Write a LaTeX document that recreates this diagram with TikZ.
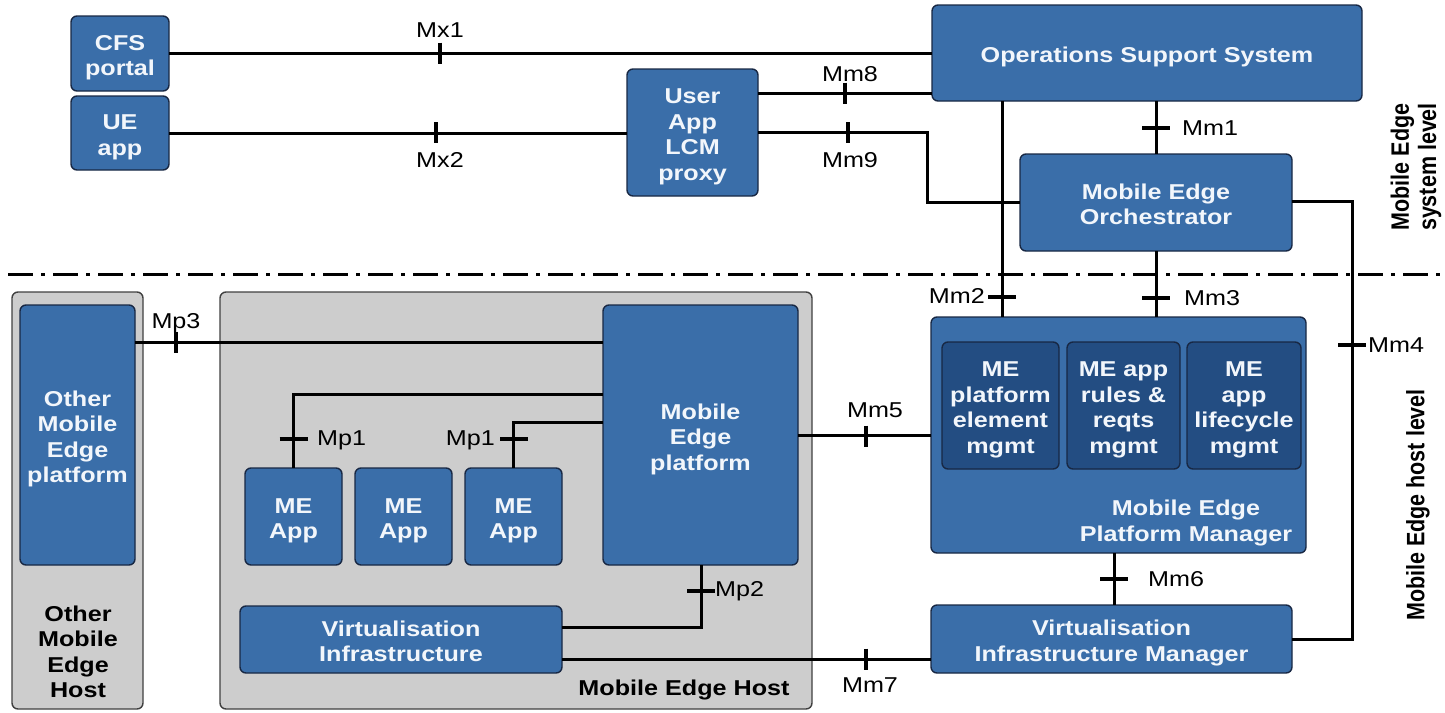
\documentclass[tikz,border=0pt]{standalone}
\usepackage{fontspec}
\setmainfont{Liberation Sans}[FakeStretch=1.17]
\newfontfamily\sidefont{Liberation Sans}
\usepackage{graphicx}

\definecolor{meblue}{RGB}{58,110,169}
\definecolor{medark}{RGB}{35,77,130}
\definecolor{meline}{RGB}{24,40,68}
\definecolor{metext}{RGB}{242,246,251}
\definecolor{hostgray}{RGB}{205,205,205}
\definecolor{hostline}{RGB}{64,64,64}

% centred block of lines, set a little below the optical centre of its box
\newcommand{\blk}[1]{\raisebox{-4.5pt}[\height][\depth]{\begin{tabular}{@{}c@{}}#1\end{tabular}}}

\begin{document}
\begin{tikzpicture}[x=1pt,y=-1pt,
  box/.style={draw=meline, fill=meblue, line width=1.4pt, rounded corners=6pt,
    text=metext, font=\fontsize{21.5}{25.5}\selectfont\bfseries,
    inner sep=0pt, outer sep=0pt},
  inbox/.style={box, fill=medark},
  hostbox/.style={draw=hostline, fill=hostgray, line width=1.4pt, rounded corners=6pt,
    inner sep=0pt, outer sep=0pt},
  wire/.style={line width=3pt},
  vtick/.style={line width=4.5pt},
  htick/.style={line width=4pt},
  lbl/.style={font=\fontsize{21.5}{25.5}\selectfont, inner sep=0pt},
  hostlbl/.style={font=\fontsize{21.5}{25.5}\selectfont\bfseries, align=center, inner sep=0pt},
  sidelbl/.style={font=\sidefont\fontsize{21.5}{25.5}\selectfont\bfseries, align=center, inner sep=0pt, rotate=90},
  levelline/.style={line width=3pt, dash pattern=on 25pt off 8pt on 4pt off 8pt},
]
\useasboundingbox (0,0) rectangle (1445,712);

% host containers
\node[hostbox, minimum width=131, minimum height=417] (ohost) at (77.5,500.5) {};
\node[hostbox, minimum width=592, minimum height=417] (host) at (516,500.5) {};

% system level
\node[box, minimum width=98, minimum height=75] (cfs) at (120,53.5) {\blk{CFS\\portal}};
\node[box, minimum width=98, minimum height=74] (ue) at (120,133) {\blk{UE\\app}};
\node[box, minimum width=131, minimum height=127] (proxy) at (692.5,132.5) {\blk{User\\App\\LCM\\proxy}};
\node[box, minimum width=430, minimum height=96] (oss) at (1147,53) {\blk{Operations Support System}};
\node[box, minimum width=272, minimum height=97] (meo) at (1156,202.5) {\blk{Mobile Edge\\Orchestrator}};

% host level
\node[box, minimum width=115, minimum height=260] (oplat) at (77.5,435) {\blk{Other\\Mobile\\Edge\\platform}};
\node[box, minimum width=195, minimum height=260] (meplat) at (700.5,435) {\blk{Mobile\\Edge\\platform}};
\node[box, minimum width=97, minimum height=97] (app1) at (293.5,516.5) {\blk{ME\\App}};
\node[box, minimum width=97, minimum height=97] (app2) at (403.5,516.5) {\blk{ME\\App}};
\node[box, minimum width=97, minimum height=97] (app3) at (513.5,516.5) {\blk{ME\\App}};
\node[box, minimum width=322, minimum height=67] (vi) at (401,639.5) {\blk{Virtualisation\\Infrastructure}};

\node[box, minimum width=375, minimum height=236] (mepm) at (1118.5,435) {};
\node[inbox, minimum width=117, minimum height=127] (pem) at (1000.5,405.5) {\blk{ME\\platform\\element\\mgmt}};
\node[inbox, minimum width=113, minimum height=127] (arm) at (1123.5,405.5) {\blk{ME app\\rules \&\\reqts\\mgmt}};
\node[inbox, minimum width=114, minimum height=127] (alm) at (1244,405.5) {\blk{ME\\app\\lifecycle\\mgmt}};
\node[box, draw=none, fill=none] (mepmlbl) at (1186,519) {\blk{Mobile Edge\\Platform Manager}};
\node[box, minimum width=361, minimum height=68] (vim) at (1111.5,639) {\blk{Virtualisation\\Infrastructure Manager}};

\node[hostlbl] (ohostlbl) at (78,652) {Other\\Mobile\\Edge\\Host};
\node[hostlbl] (hostlbl) at (684,690) {Mobile Edge Host};

% level separator and level titles
\draw[levelline] (8,274) -- (1442,274);
\node[sidelbl] (syslvl) at (1416,167) {\scalebox{1}[1.17]{\shortstack{Mobile Edge\\system level}}};
\node[sidelbl] (hostlvl) at (1418,505) {\scalebox{1}[1.17]{Mobile Edge host level}};

% reference points: connectors
\draw[wire] (cfs.east) -- (oss.west |- cfs.east);
\draw[wire] (ue.east) -- (proxy.west |- ue.east);
\draw[wire] (proxy.east |- 0,93) -- (oss.west |- 0,93);
\draw[wire] (proxy.east) -- (927,132.5) |- (meo.west);
\draw[wire] (oss.south -| meo.north) -- (meo.north);
\draw[wire] (oss.south -| 1002,0) -- (mepm.north -| 1002,0);
\draw[wire] (meo.south) -- (mepm.north -| meo.south);
\draw[wire] (meo.east |- 0,201) -| (1352,639) -- (vim.east |- 0,639);
\draw[wire] (meplat.east) -- (mepm.west |- meplat.east);
\draw[wire] (mepm.south -| 1114,0) -- (vim.north -| 1114,0);
\draw[wire] (vi.east |- 0,659) -- (vim.west |- 0,659);
\draw[wire] (meplat.south -| 701,0) -- (701,627) -- (vi.east |- 0,627);
\draw[wire] (oplat.east |- 0,342) -- (meplat.west |- 0,342);
\draw[wire] (meplat.west |- 0,394) -| (app1.north);
\draw[wire] (meplat.west |- 0,422) -| (app3.north);

% ticks across horizontal connectors
\foreach \x/\y in {440/53, 436/132.5, 845/93, 848/132.5, 176/342, 866/436, 866/659}
  \draw[vtick] (\x,\y-10.5) -- (\x,\y+10.5);
% ticks across vertical connectors
\foreach \x/\y in {1156/128, 1002/297, 1156/298, 1352/345, 1114/579, 293.5/439, 514/439, 701/591}
  \draw[htick] (\x-14,\y) -- (\x+14,\y);

% reference point labels
\node[lbl] (lmx1) at (440,30) {Mx1};
\node[lbl] (lmx2) at (440,160) {Mx2};
\node[lbl] (lmm8) at (850,74) {Mm8};
\node[lbl] (lmm9) at (850,160) {Mm9};
\node[lbl, anchor=west] (lmm1) at (1182,128) {Mm1};
\node[lbl, anchor=east] (lmm2) at (985,296) {Mm2};
\node[lbl, anchor=west] (lmm3) at (1184,298) {Mm3};
\node[lbl, anchor=west] (lmm4) at (1368,345) {Mm4};
\node[lbl] (lmm5) at (875,410) {Mm5};
\node[lbl, anchor=west] (lmm6) at (1148,579) {Mm6};
\node[lbl] (lmm7) at (870,685) {Mm7};
\node[lbl] (lmp3) at (176,323) {Mp3};
\node[lbl, anchor=west] (lmp1a) at (317,440) {Mp1};
\node[lbl, anchor=east] (lmp1b) at (495,440) {Mp1};
\node[lbl, anchor=west] (lmp2) at (715,591) {Mp2};
\end{tikzpicture}
\end{document}
